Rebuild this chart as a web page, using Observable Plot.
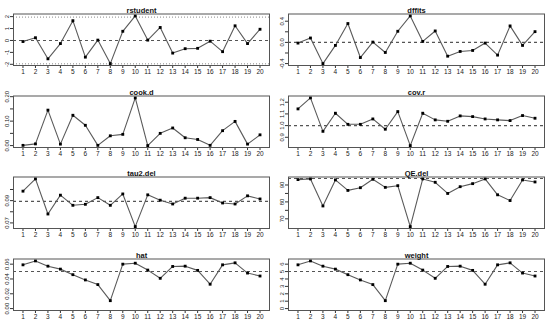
<!DOCTYPE html>
<html>
<head>
<meta charset="utf-8">
<script src="https://cdn.jsdelivr.net/npm/d3@7"></script>
<script src="https://cdn.jsdelivr.net/npm/@observablehq/plot@0.6"></script>
<style>
  html, body { margin: 0; padding: 0; background: #fff; }
  #wrap { position: relative; width: 550px; height: 326px; overflow: hidden; }
  #wrap svg { position: absolute; }
</style>
</head>
<body>
<div id="wrap"></div>
<script>
// ---- data ----
const study = [1,2,3,4,5,6,7,8,9,10,11,12,13,14,15,16,17,18,19,20];

const rstudent = [-0.09,0.23,-1.54,-0.26,1.66,-1.40,0.03,-1.94,0.77,2.06,0.03,1.09,-1.06,-0.69,-0.66,-0.06,-0.94,1.23,-0.26,0.94];
const dffits   = [-0.013,0.083,-0.40,-0.057,0.356,-0.286,0.006,-0.19,0.21,0.50,0.019,0.216,-0.26,-0.171,-0.152,-0.013,-0.24,0.311,-0.057,0.203];
const cookd    = [0.001,0.007,0.145,0.006,0.124,0.083,0.001,0.040,0.046,0.195,0.000,0.050,0.072,0.032,0.025,0.001,0.061,0.099,0.006,0.044];
const covr     = [1.143,1.237,0.951,1.106,1.011,1.011,1.057,0.969,1.120,0.829,1.106,1.049,1.037,1.083,1.077,1.057,1.049,1.043,1.086,1.063];
const tau2del  = [0.0985,0.1095,0.0780,0.0949,0.0858,0.0867,0.0927,0.0858,0.0960,0.0667,0.0952,0.0904,0.0870,0.0922,0.0922,0.0927,0.0879,0.0870,0.0943,0.0915];
const qedel    = [93.2,93.6,77.6,93.0,86.8,88.4,93.4,88.6,89.6,65.4,93.6,91.6,85.0,89.0,90.8,93.6,84.2,80.8,93.0,91.8];
const hat      = [0.0591,0.0644,0.0573,0.0533,0.0458,0.0387,0.0324,0.0107,0.0600,0.0613,0.0520,0.0409,0.0569,0.0573,0.0516,0.0329,0.0591,0.0618,0.0480,0.0440];
const weight   = [5.91,6.44,5.73,5.33,4.58,3.87,3.24,1.07,6.00,6.13,5.20,4.09,5.69,5.73,5.16,3.29,5.91,6.18,4.80,4.40];

// reference lines
const refRstudentDashed = [0];
const refRstudentDotted = [-1.96, 1.96];
const refDffits = [0];
const refCovr = [1];
const refTau2 = [0.0893];
const refQE = [93.8];
const refHat = [0.05];
const refWeight = [5];

// y tick positions and labels
const ticksRstudent = [-2,-1,0,1,2];          const labRstudent = ["-2","-1","0","1","2"];
const ticksDffits = [-0.4,-0.2,0,0.2,0.4];     const labDffits = ["-0.4","","0.0","","0.4"];
const ticksCook = [0,0.05,0.1,0.15,0.2];       const labCook = ["0.00","","0.10","","0.20"];
const ticksCovr = [0.9,1.0,1.1,1.2];           const labCovr = ["0.9","1.0","1.1","1.2"];
const ticksTau2 = [0.07,0.08,0.09,0.10];       const labTau2 = ["0.07","","0.09",""];
const ticksQE = [70,75,80,85,90];              const labQE = ["70","","80","","90"];
const ticksHat = [0,0.02,0.04,0.06];           const labHat = ["0.00","0.02","0.04","0.06"];
const ticksWeight = [0,1,2,3,4,5,6];           const labWeight = ["0","1","2","3","4","5","6"];

// ---- drawing ----
const FONT = "Liberation Sans, Arial, Helvetica, sans-serif";
const W = 275, H = 81.5;

function domainOf(vals, includeZero) {
  let lo = d3.min(vals), hi = d3.max(vals);
  if (includeZero) lo = Math.min(lo, 0);
  const pad = (hi - lo) * 0.04;
  return [lo - pad, hi + pad];
}

function panel(cfg) {
  const data = study.map((s, i) => ({s, v: cfg.values[i]}));
  const tickData = cfg.ticks.map((t, i) => ({t, lab: cfg.labels[i]}));
  const marks = [
    Plot.axisX({ticks: study, tickSize: 3, tickPadding: 1, tickFormat: d => String(d), fontSize: 6.5, label: null, stroke: "#333", fill: "#222"}),
    Plot.axisY({ticks: cfg.ticks, tickSize: 3, tickFormat: () => "", label: null, stroke: "#333"}),
    Plot.text(tickData, {y: "t", text: "lab", frameAnchor: "left", dx: -5, rotate: -90, textAnchor: "middle", lineAnchor: "bottom", fontSize: 6, fill: "#222"}),
  ];
  (cfg.dotted || []).forEach(v => marks.push(Plot.ruleY([v], {stroke: "#888", strokeDasharray: "1,2", strokeWidth: 1})));
  (cfg.dashed || []).forEach(v => marks.push(Plot.ruleY([v], {stroke: "#555", strokeDasharray: "3,3", strokeWidth: 1.1})));
  marks.push(
    Plot.line(data, {x: "s", y: "v", stroke: "#5a5a5a", strokeWidth: 1.1}),
    Plot.dot(data, {x: "s", y: "v", r: 1.6, fill: "#000", stroke: "none", symbol: "square"}),
    Plot.frame({stroke: "#555", strokeWidth: 1}),
    Plot.text([cfg.title], {frameAnchor: "top", dy: -6.5, fontSize: 7.5, fontWeight: "bold", fill: "#111"})
  );
  const svg = Plot.plot({
    width: W, height: H,
    marginLeft: 13, marginRight: 6, marginTop: 13.5, marginBottom: 16.5,
    style: {fontFamily: FONT, background: "transparent", overflow: "visible"},
    x: {type: "linear", domain: [0.24, 20.76]},
    y: {domain: cfg.domain || domainOf(cfg.values, cfg.zero)},
    marks
  });
  svg.style.left = (cfg.col * W) + "px";
  svg.style.top = (cfg.row * H) + "px";
  document.getElementById("wrap").appendChild(svg);
}

panel({title: "rstudent", values: rstudent, ticks: ticksRstudent, labels: labRstudent, dashed: refRstudentDashed, dotted: refRstudentDotted, row: 0, col: 0});
panel({title: "dffits", values: dffits, ticks: ticksDffits, labels: labDffits, dashed: refDffits, row: 0, col: 1});
panel({title: "cook.d", values: cookd, ticks: ticksCook, labels: labCook, row: 1, col: 0});
panel({title: "cov.r", values: covr, ticks: ticksCovr, labels: labCovr, dashed: refCovr, row: 1, col: 1});
panel({title: "tau2.del", values: tau2del, ticks: ticksTau2, labels: labTau2, dashed: refTau2, row: 2, col: 0});
panel({title: "QE.del", values: qedel, ticks: ticksQE, labels: labQE, dashed: refQE, row: 2, col: 1});
panel({title: "hat", values: hat, ticks: ticksHat, labels: labHat, dashed: refHat, zero: true, row: 3, col: 0});
panel({title: "weight", values: weight, ticks: ticksWeight, labels: labWeight, dashed: refWeight, zero: true, row: 3, col: 1});
</script>
</body>
</html>
